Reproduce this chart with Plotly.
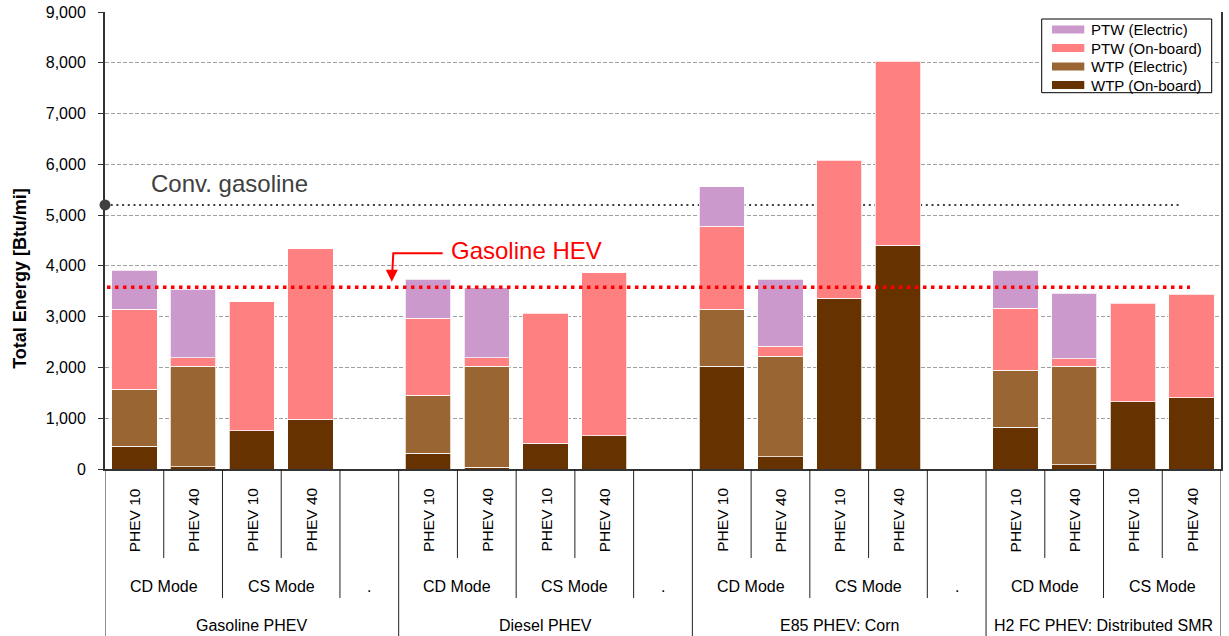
import plotly.graph_objects as go

# ---------------- data ----------------
GROUPS = ["Gasoline PHEV", "Diesel PHEV", "E85 PHEV: Corn", "H2 FC PHEV: Distributed SMR"]
MODES = ["CD Mode", "CS Mode"]
VEHICLES = ["PHEV 10", "PHEV 40"]
SPACER_LABEL = "."

# one value per bar, in order: group -> mode -> vehicle
WTP_ONBOARD = [446, 40, 755, 978, 308, 32, 505, 657, 2024, 237, 3365, 4410, 821, 79, 1321, 1400]
WTP_ELECTRIC = [1124, 1984, 0, 0, 1144, 1992, 0, 0, 1118, 1984, 0, 0, 1124, 1945, 0, 0]
PTW_ONBOARD = [1572, 171, 2539, 3361, 1518, 171, 2564, 3209, 1643, 197, 2716, 3617, 1223, 146, 1946, 2044]
PTW_ELECTRIC = [769, 1348, 0, 0, 770, 1375, 0, 0, 769, 1322, 0, 0, 743, 1294, 0, 0]

CONV_GASOLINE = 5200
GASOLINE_HEV = 3580
Y_TICKS = list(range(0, 9001, 1000))

SERIES = [
    ("WTP (On-board)", WTP_ONBOARD, "#663300"),
    ("WTP (Electric)", WTP_ELECTRIC, "#996633"),
    ("PTW (On-board)", PTW_ONBOARD, "#FF8080"),
    ("PTW (Electric)", PTW_ELECTRIC, "#CC99CC"),
]

FONT = "Arial, 'Liberation Sans', Helvetica, sans-serif"

# plot-area geometry (pixels) used to place decorations in paper coordinates
W, H = 1229, 636
L, R, T, B = 105, 8, 12, 167
PW, PH = W - L - R, H - T - B
def px(x):
    return (x - L) / PW
def py(y):
    return (H - B - y) / PH

# ---------------- slot structure ----------------
slots = []  # (group index, mode label, vehicle label or None)
for gi, g in enumerate(GROUPS):
    for m in MODES:
        for v in VEHICLES:
            slots.append((gi, m, v))
    if gi < len(GROUPS) - 1:
        slots.append((gi, SPACER_LABEL, None))
bar_x = [i for i, s in enumerate(slots) if s[2] is not None]
n = len(slots)

fig = go.Figure()
for name, vals, color in SERIES:
    fig.add_trace(go.Bar(
        x=bar_x, y=[v if v else None for v in vals], name=name, showlegend=False,
        marker=dict(color=color, line=dict(color="rgba(255,255,255,0.75)", width=1)),
    ))

# ---------------- category table below the axis ----------------
Y_VEH = py(520)
Y_MODE = py(586)
Y_GROUP = py(625)
LINE_VEH = py(558)
LINE_MODE = py(598)
LINE_FULL = py(640)

shapes = []
def vline(x, ybottom):
    shapes.append(dict(type="line", xref="x", yref="paper", x0=x, x1=x, y0=0, y1=ybottom,
                       line=dict(color="#222", width=1)))

vline(-0.5, LINE_FULL)
vline(n - 0.5, LINE_FULL)
for i in range(n - 1):
    a, b = slots[i], slots[i + 1]
    if a[0] != b[0]:
        vline(i + 0.5, LINE_FULL)
    elif a[1] != b[1]:
        vline(i + 0.5, LINE_MODE)
    else:
        vline(i + 0.5, LINE_VEH)

annotations = []
def label(x, y, text, size, xref="paper", **kw):
    d = dict(x=x, y=y, xref=xref, yref="paper", text=text, showarrow=False,
             xanchor=kw.pop("xanchor", "center"), yanchor=kw.pop("yanchor", "middle"),
             font=dict(family=FONT, size=size, color=kw.pop("color", "#000")))
    d.update(kw)
    annotations.append(d)

for i, s in enumerate(slots):
    if s[2] is not None:
        label(i, Y_VEH, s[2], 15.5, xref="x", textangle=-90)
# mode labels
i = 0
while i < n:
    j = i
    while j + 1 < n and slots[j + 1][0] == slots[i][0] and slots[j + 1][1] == slots[i][1]:
        j += 1
    label((i + j) / 2, Y_MODE, slots[i][1], 16, xref="x")
    i = j + 1
# group labels
for gi, g in enumerate(GROUPS):
    idx = [k for k, s in enumerate(slots) if s[0] == gi]
    label((idx[0] + idx[-1]) / 2, Y_GROUP, g, 16, xref="x")

# ---------------- reference lines ----------------
shapes.append(dict(type="line", xref="paper", yref="y", x0=0, x1=px(1180), y0=CONV_GASOLINE, y1=CONV_GASOLINE,
                   line=dict(color="#404040", width=2, dash="2px,3.7px"), layer="below"))
shapes.append(dict(type="circle", xref="paper", yref="y", xsizemode="pixel", ysizemode="pixel",
                   xanchor=0, yanchor=CONV_GASOLINE, x0=-5.5, x1=5.5, y0=-5.5, y1=5.5,
                   fillcolor="#404040", line=dict(color="#404040", width=0)))
shapes.append(dict(type="line", xref="paper", yref="y", x0=px(107), x1=px(1190), y0=GASOLINE_HEV, y1=GASOLINE_HEV,
                   line=dict(color="#FF0000", width=3.5, dash="3.5px,4.5px")))
# elbow of the HEV arrow
shapes.append(dict(type="path", xref="paper", yref="paper",
                   path=f"M {px(442.7)} {py(253.3)} L {px(393.3)} {py(253.3)} L {px(392.3)} {py(272)}",
                   line=dict(color="#FF0000", width=2)))
annotations.append(dict(x=px(391.8), y=py(281.7), xref="paper", yref="paper", ax=0, ay=-12, text="",
                        showarrow=True, arrowhead=2, arrowsize=1.2, arrowwidth=2, arrowcolor="#FF0000"))

label(px(149.3), py(183.5), "Conv. gasoline", 24, xanchor="left", color="#404040")
label(px(449.3), py(250), "Gasoline HEV", 24, xanchor="left", color="#FF0000")

# y-axis title
label(px(20.5), py(278.3), "<b>Total Energy [Btu/mi]</b>", 18, textangle=-90)

# ---------------- legend (drawn from SERIES) ----------------
shapes.append(dict(type="rect", xref="paper", yref="paper", x0=px(1041.7), x1=px(1211.7), y0=py(19), y1=py(92.7),
                   fillcolor="white", line=dict(color="#000", width=1)))
for k, (name, vals, color) in enumerate(reversed(SERIES)):
    cy = 29.5 + 18.5 * k
    shapes.append(dict(type="rect", xref="paper", yref="paper", x0=px(1052), x1=px(1084.3),
                       y0=py(cy - 4), y1=py(cy + 4), fillcolor=color, line=dict(width=0)))
    label(px(1089.3), py(cy), name, 15, xanchor="left")

fig.update_layout(
    width=W, height=H,
    margin=dict(l=L, r=R, t=T, b=B),
    barmode="stack", bargap=0.229,
    plot_bgcolor="white", paper_bgcolor="white",
    font=dict(family=FONT, color="#000"),
    showlegend=False,
    shapes=shapes, annotations=annotations,
)
fig.update_xaxes(range=[-0.5, n - 0.5], showticklabels=False, showgrid=False, zeroline=False,
                 showline=True, linecolor="#333", linewidth=2, ticks="", automargin=False)
fig.update_yaxes(range=[0, 9000], tickvals=Y_TICKS, tickformat=",d", showgrid=True,
                 gridcolor="#A0A0A0", gridwidth=1, griddash="4px,2px", zeroline=False,
                 showline=True, linecolor="#333", linewidth=2, mirror=True,
                 ticks="outside", ticklen=5, tickcolor="#333", ticklabelstandoff=9,
                 tickfont=dict(family=FONT, size=16, color="#000"), automargin=False)

fig.write_html("out.html", config={"displayModeBar": False},
               post_script="document.body.style.margin='0';document.body.style.padding='0';"
                           "document.body.style.overflow='hidden';")
